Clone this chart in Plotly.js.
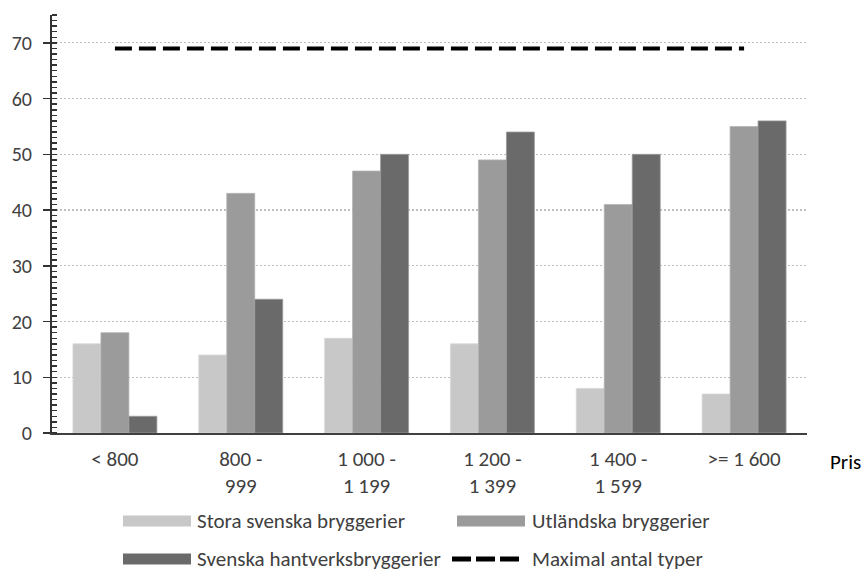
<!DOCTYPE html>
<html><head><meta charset="utf-8">
<script src="https://cdn.plot.ly/plotly-3.0.1.min.js"></script>
<style>html,body{margin:0;padding:0;background:#fff}#chart{width:862px;height:573px}</style>
</head><body><div id="chart"></div>
<script>
const categories = ["< 800", "800 -<br>999", "1 000 -<br>1 199", "1 200 -<br>1 399", "1 400 -<br>1 599", ">= 1 600"];
const storaSvenska = [16, 14, 17, 16, 8, 7];
const utlandska = [18, 43, 47, 49, 41, 55];
const hantverk = [3, 24, 50, 54, 50, 56];
const maxTyper = [69, 69, 69, 69, 69, 69];
const seriesNames = ["Stora svenska bryggerier", "Utländska bryggerier", "Svenska hantverksbryggerier", "Maximal antal typer"];
const xAxisTitle = "Pris";

const W = 862, H = 573, mL = 52, mR = 55, mT = 15, mB = 140;
const pw = W - mL - mR, ph = H - mT - mB;
const px = x => (x - mL) / pw;
const py = y => (H - mB - y) / ph;
const FONT = "Carlito, Lato, sans-serif";
const colors = ["#c8c8c8", "#9b9b9b", "#6a6a6a"];

const traces = [
  {type: 'bar', x: categories, y: storaSvenska, name: seriesNames[0], marker: {color: colors[0], line: {color: '#d8d8d8', width: 0.8}}},
  {type: 'bar', x: categories, y: utlandska, name: seriesNames[1], marker: {color: colors[1], line: {color: '#b4b4b4', width: 0.8}}},
  {type: 'bar', x: categories, y: hantverk, name: seriesNames[2], marker: {color: colors[2], line: {color: '#9a9a9a', width: 0.8}}},
  {type: 'scatter', mode: 'lines', x: categories, y: maxTyper, name: seriesNames[3], line: {color: '#000', width: 4, dash: '17px,7px'}}
];

const r1 = 521, r2 = 559;
const shapes = [
  {type: 'rect', xref: 'paper', yref: 'paper', x0: px(123), x1: px(191), y0: py(r1 + 5.5), y1: py(r1 - 5.5), fillcolor: colors[0], line: {width: 0}},
  {type: 'rect', xref: 'paper', yref: 'paper', x0: px(457), x1: px(525), y0: py(r1 + 5.5), y1: py(r1 - 5.5), fillcolor: colors[1], line: {width: 0}},
  {type: 'rect', xref: 'paper', yref: 'paper', x0: px(123), x1: px(191), y0: py(r2 + 5.5), y1: py(r2 - 5.5), fillcolor: colors[2], line: {width: 0}},
  {type: 'line', xref: 'paper', yref: 'paper', x0: px(452), x1: px(519), y0: py(r2), y1: py(r2), line: {color: '#000', width: 5, dash: '19px,5px'}}
];

const legFont = {family: FONT, size: 21, color: '#404040'};
const annotations = [
  {text: xAxisTitle, xref: 'paper', yref: 'paper', x: px(828), y: py(462), xanchor: 'left', yanchor: 'middle', showarrow: false, font: {family: FONT, size: 21, color: '#000'}},
  {text: seriesNames[0], xref: 'paper', yref: 'paper', x: px(195), y: py(r1), xanchor: 'left', yanchor: 'middle', showarrow: false, font: legFont},
  {text: seriesNames[1], xref: 'paper', yref: 'paper', x: px(530), y: py(r1), xanchor: 'left', yanchor: 'middle', showarrow: false, font: legFont},
  {text: seriesNames[2], xref: 'paper', yref: 'paper', x: px(195), y: py(r2), xanchor: 'left', yanchor: 'middle', showarrow: false, font: legFont},
  {text: seriesNames[3], xref: 'paper', yref: 'paper', x: px(530), y: py(r2), xanchor: 'left', yanchor: 'middle', showarrow: false, font: legFont}
];

const layout = {
  width: W, height: H,
  margin: {l: mL, r: mR, t: mT, b: mB, pad: 0},
  paper_bgcolor: '#fff', plot_bgcolor: '#fff',
  font: {family: FONT, size: 21, color: '#404040'},
  showlegend: false,
  barmode: 'group', bargap: 0.333, bargroupgap: 0,
  xaxis: {type: 'category', showline: true, linecolor: '#404040', linewidth: 1.5, ticks: '', showgrid: false,
          ticklabelstandoff: 6,
          tickfont: {family: FONT, size: 21, color: '#404040'}, fixedrange: true},
  yaxis: {range: [0, 75], dtick: 10, tick0: 0, showline: true, linecolor: '#333', linewidth: 2,
          ticks: 'outside', ticklen: 7, tickwidth: 1.5, tickcolor: '#333',
          ticklabelstandoff: 7,
          minor: {dtick: 1, ticks: 'inside', ticklen: 5, tickwidth: 1.5, tickcolor: '#333', showgrid: false},
          showgrid: true, gridcolor: '#bfbfbf', gridwidth: 1.2, griddash: '1.5px,2.5px', zeroline: false,
          tickfont: {family: FONT, size: 20, color: '#404040'}, fixedrange: true},
  shapes: shapes,
  annotations: annotations
};

Plotly.newPlot('chart', traces, layout, {displayModeBar: false, staticPlot: true});
</script></body></html>
